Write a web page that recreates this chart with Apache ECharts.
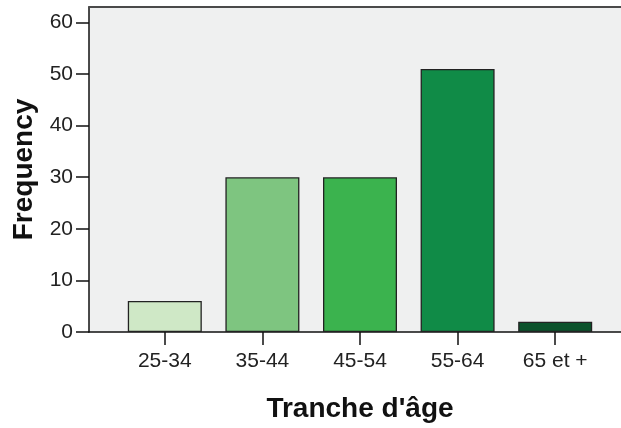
<!DOCTYPE html>
<html>
<head>
<meta charset="utf-8">
<script src="https://cdn.jsdelivr.net/npm/echarts@6/dist/echarts.min.js"></script>
<style>
html,body{margin:0;padding:0;background:#fff;}
#c{width:621px;height:428px;}
</style>
</head>
<body>
<div id="c"></div>
<script>
var categories = ['25-34', '35-44', '45-54', '55-64', '65 et +'];
var frequencies = [6, 30, 30, 51, 2];
var yTicks = [0, 10, 20, 30, 40, 50, 60];
var palette = ['#cfe8c6', '#7ec580', '#3bb34e', '#108b47', '#0b522b'];

var FONT = '"Liberation Sans", Arial, sans-serif';
var chart = echarts.init(document.getElementById('c'), null, {renderer: 'canvas'});

var option = {
  animation: false,
  backgroundColor: '#ffffff',
  grid: [
    {left: 89, top: 7, right: 0, bottom: 96, show: true, backgroundColor: '#eff0f0', borderWidth: 0,
     containLabel: false, outerBoundsMode: 'none'},
    {left: 116, top: 7, right: 17, bottom: 96, containLabel: false, outerBoundsMode: 'none'}
  ],
  xAxis: [
    {gridIndex: 0, type: 'value', min: 0, max: 1, position: 'bottom',
     axisLine: {show: true, lineStyle: {color: '#111', width: 1.5}},
     axisTick: {show: false}, axisLabel: {show: false}, splitLine: {show: false}},
    {gridIndex: 0, type: 'value', min: 0, max: 1, position: 'top',
     axisLine: {show: true, lineStyle: {color: '#4a4a4a', width: 2}},
     axisTick: {show: false}, axisLabel: {show: false}, splitLine: {show: false}},
    {gridIndex: 1, type: 'category', data: categories, position: 'bottom',
     boundaryGap: true,
     axisLine: {show: false},
     axisTick: {show: true, alignWithLabel: true, inside: false, length: 13, lineStyle: {color: '#111', width: 1.5}},
     axisLabel: {margin: 19, color: '#222', fontSize: 21, fontFamily: FONT},
     name: 'Tranche d\'âge', nameLocation: 'middle', nameGap: 63,
     nameTextStyle: {fontSize: 28, fontWeight: 'bold', color: '#111', fontFamily: FONT}}
  ],
  yAxis: [
    {gridIndex: 0, type: 'value', min: 0, max: 63,
     axisLine: {show: true, lineStyle: {color: '#111', width: 1.5}},
     axisTick: {show: true, length: 13, customValues: yTicks, lineStyle: {color: '#111', width: 1.5}},
     axisLabel: {margin: 16, customValues: yTicks, color: '#222', fontSize: 21, fontFamily: FONT},
     splitLine: {show: false},
     name: 'Frequency', nameLocation: 'middle', nameGap: 48, nameRotate: 90,
     nameTextStyle: {fontSize: 28, fontWeight: 'bold', color: '#111', fontFamily: FONT}},
    {gridIndex: 1, type: 'value', min: 0, max: 63, show: false}
  ],
  series: [{
    type: 'bar',
    xAxisIndex: 2,
    yAxisIndex: 1,
    barWidth: 74,
    data: frequencies.map(function (v, i) {
      return {value: v, itemStyle: {color: palette[i]}};
    }),
    itemStyle: {borderColor: '#222', borderWidth: 1.3}
  }]
};
chart.setOption(option);
</script>
</body>
</html>
